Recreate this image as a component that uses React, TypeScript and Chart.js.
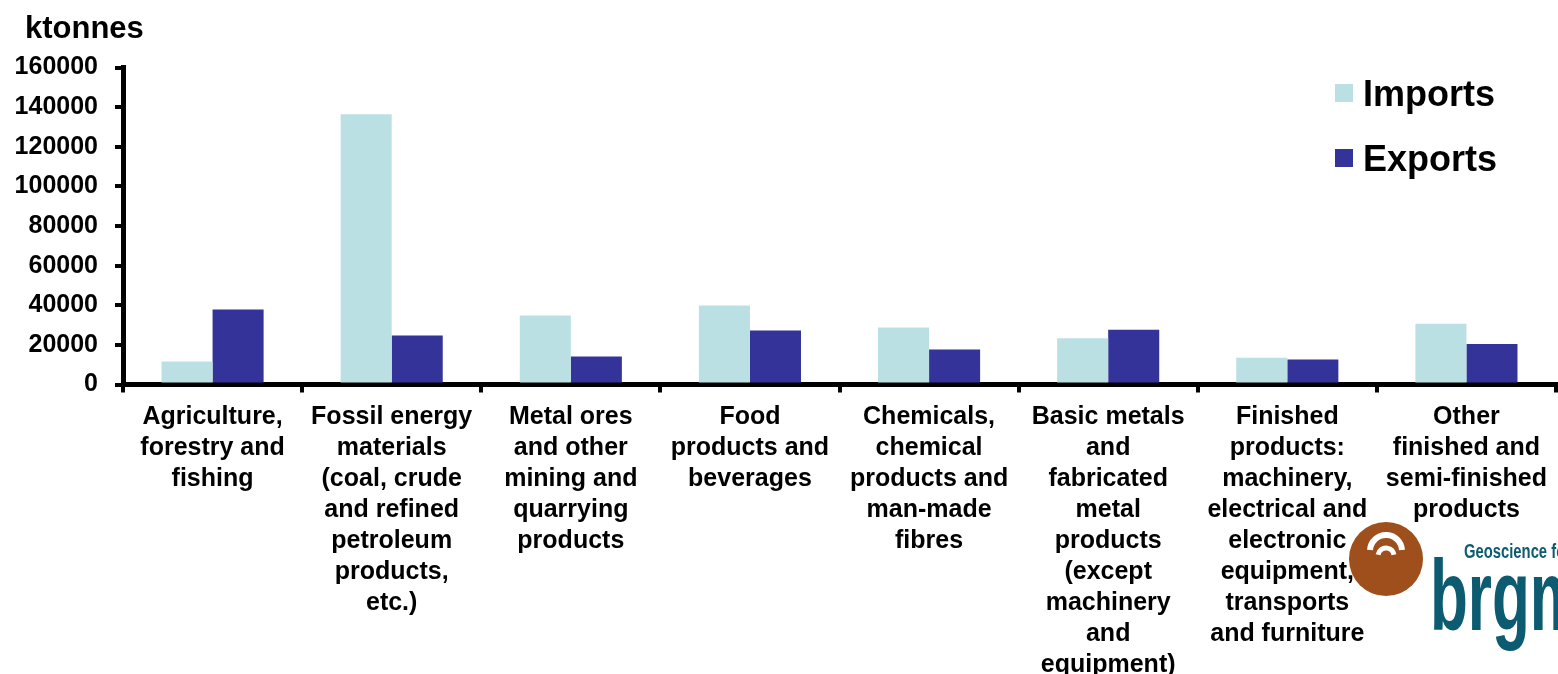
import React, { useEffect, useRef } from "react";
import { Chart, registerables } from "chart.js";

Chart.register(...registerables);

const categories: string[][] = [
  ["Agriculture,", "forestry and", "fishing"],
  ["Fossil energy", "materials", "(coal, crude", "and refined", "petroleum", "products,", "etc.)"],
  ["Metal ores", "and other", "mining and", "quarrying", "products"],
  ["Food", "products and", "beverages"],
  ["Chemicals,", "chemical", "products and", "man-made", "fibres"],
  ["Basic metals", "and", "fabricated", "metal", "products", "(except", "machinery", "and", "equipment)"],
  ["Finished", "products:", "machinery,", "electrical and", "electronic", "equipment,", "transports", "and furniture"],
  ["Other", "finished and", "semi-finished", "products"],
];

const importsValues = [11600, 136400, 34800, 39900, 28800, 23400, 13500, 30700];
const exportsValues = [37900, 24700, 14100, 27300, 17700, 27600, 12600, 20400];

const yTicks = [0, 20000, 40000, 60000, 80000, 100000, 120000, 140000, 160000];

const FONT = "'Liberation Sans', Arial, sans-serif";
const IMPORT_COLOR = "#bbe0e3";
const EXPORT_COLOR = "#333399";

const decorPlugin = {
  id: "decor",
  afterDraw(chart: any) {
    const ctx = chart.ctx as CanvasRenderingContext2D;
    ctx.save();
    // y axis title
    ctx.fillStyle = "#000";
    ctx.font = `bold 31px ${FONT}`;
    ctx.textAlign = "left";
    ctx.textBaseline = "alphabetic";
    ctx.fillText("ktonnes", 25, 38);

    // legend
    const ds = chart.data.datasets;
    const legendY = [84, 149];
    ds.forEach((d: any, i: number) => {
      ctx.fillStyle = d.backgroundColor;
      ctx.fillRect(1335, legendY[i], 18, 18);
      ctx.fillStyle = "#000";
      ctx.font = `bold 36px ${FONT}`;
      ctx.fillText(d.label, 1363, legendY[i] + 22);
    });

    // logo
    ctx.fillStyle = "#9e4f1b";
    ctx.beginPath();
    ctx.arc(1386, 559, 37, 0, Math.PI * 2);
    ctx.fill();
    ctx.strokeStyle = "#ffffff";
    ctx.lineCap = "butt";
    ctx.lineWidth = 6;
    ctx.beginPath();
    ctx.arc(1386, 551, 16, Math.PI * 1.02, Math.PI * 1.98);
    ctx.stroke();
    ctx.lineWidth = 5;
    ctx.beginPath();
    ctx.arc(1386, 556, 8, Math.PI * 1.05, Math.PI * 1.95);
    ctx.stroke();

    ctx.fillStyle = "#0d5b70";
    ctx.save();
    ctx.translate(1464, 558);
    ctx.scale(0.74, 1);
    ctx.font = `bold 20px ${FONT}`;
    ctx.fillText("Geoscience for a sustainable Earth", 0, 0);
    ctx.restore();

    ctx.save();
    ctx.translate(1430, 630);
    ctx.scale(0.62, 1);
    ctx.font = `bold 100px ${FONT}`;
    ctx.fillText("brgm", 0, 0);
    ctx.restore();

    ctx.restore();
  },
};

export default function App() {
  const ref = useRef<HTMLCanvasElement | null>(null);

  useEffect(() => {
    if (!ref.current) return;
    const chart = new Chart(ref.current, {
      type: "bar",
      data: {
        labels: categories,
        datasets: [
          {
            label: "Imports",
            data: importsValues,
            backgroundColor: IMPORT_COLOR,
            borderWidth: 0,
            categoryPercentage: 0.57,
            barPercentage: 1.0,
          },
          {
            label: "Exports",
            data: exportsValues,
            backgroundColor: EXPORT_COLOR,
            borderWidth: 0,
            categoryPercentage: 0.57,
            barPercentage: 1.0,
          },
        ],
      },
      options: {
        animation: false,
        responsive: false,
        devicePixelRatio: 1,
        layout: { padding: { top: 67.5, right: 2, left: 0, bottom: 0 } },
        plugins: {
          legend: { display: false },
          title: { display: false },
          tooltip: { enabled: false },
        },
        scales: {
          x: {
            grid: {
              drawOnChartArea: false,
              drawTicks: true,
              tickLength: 8,
              lineWidth: 4,
              color: "#000",
              offset: true,
            },
            border: { color: "#000", width: 5 },
            ticks: {
              color: "#000",
              font: { family: FONT, size: 25, weight: "bold", lineHeight: 1.24 },
              autoSkip: false,
              maxRotation: 0,
              minRotation: 0,
              padding: 9,
            },
            afterFit(scale: any) {
              scale.height = 674 - 384.5;
            },
          },
          y: {
            min: 0,
            max: 160000,
            afterBuildTicks(scale: any) {
              scale.ticks = yTicks.map((v) => ({ value: v }));
            },
            grid: {
              drawOnChartArea: false,
              drawTicks: true,
              tickLength: 8,
              lineWidth: 4,
              color: "#000",
            },
            border: { color: "#000", width: 5 },
            ticks: {
              color: "#000",
              font: { family: FONT, size: 25, weight: "bold" },
              padding: 17,
              callback: (v: any) => String(v),
            },
            afterFit(scale: any) {
              scale.width = 123;
            },
          },
        },
      },
      plugins: [decorPlugin],
    });
    return () => chart.destroy();
  }, []);

  return (
    <div style={{ position: "fixed", left: 0, top: 0, width: 1558, height: 674, background: "#fff" }}>
      <canvas ref={ref} width={1558} height={674} style={{ display: "block", width: 1558, height: 674 }} />
    </div>
  );
}
